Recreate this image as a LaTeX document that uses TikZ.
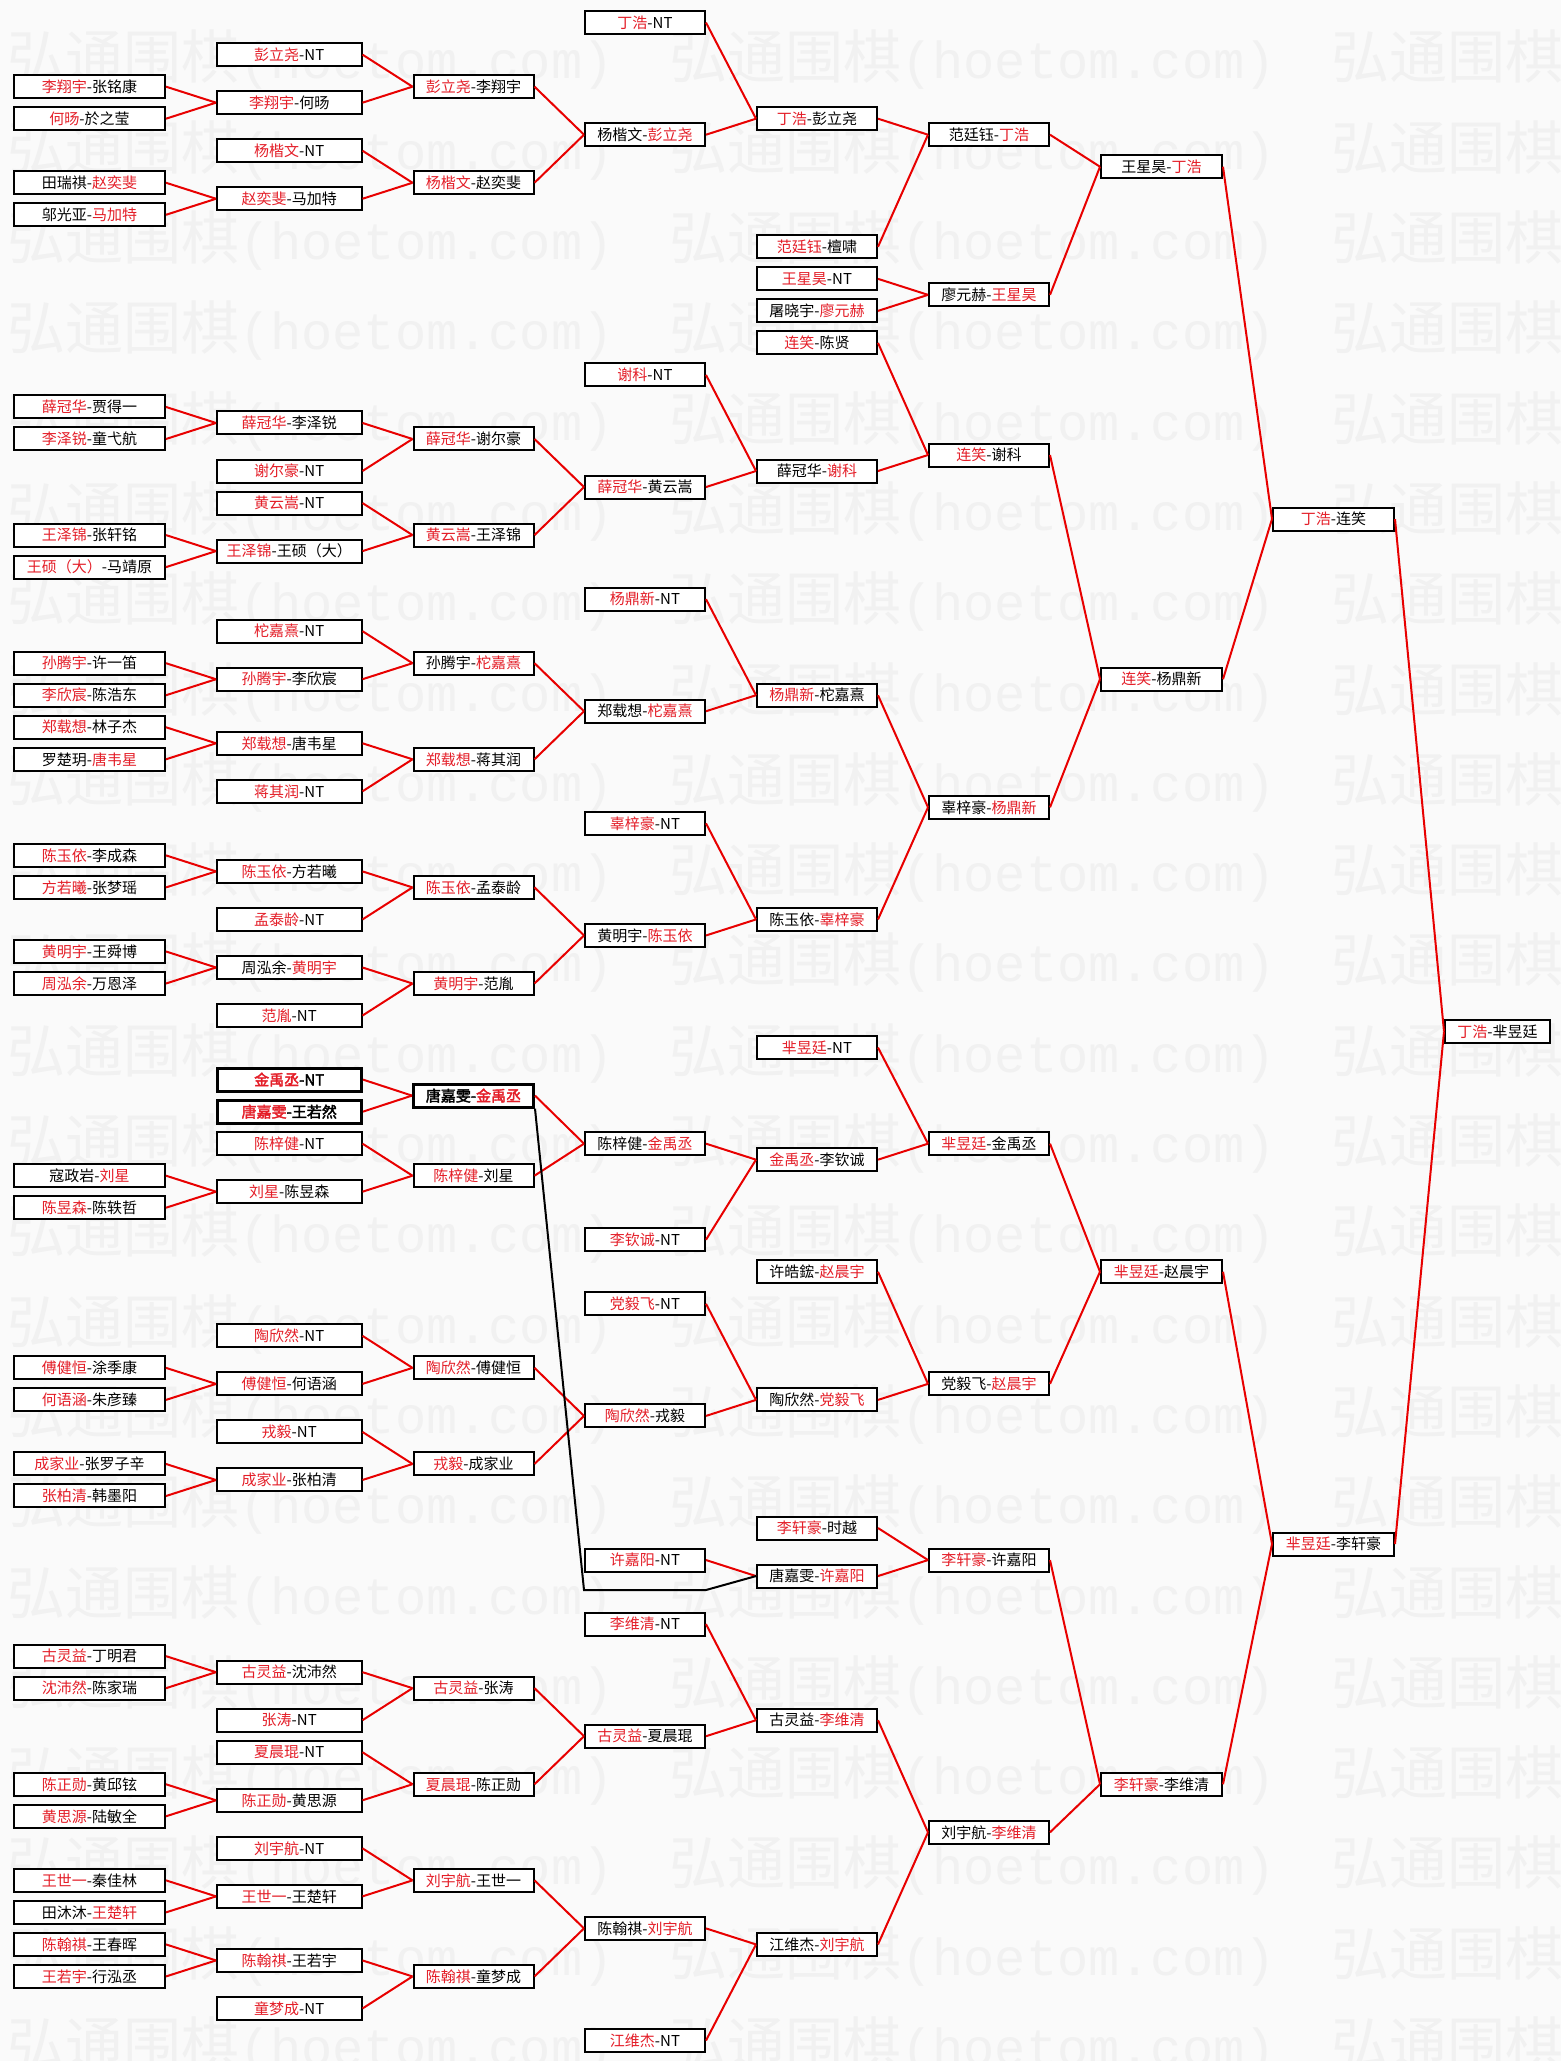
\documentclass[tikz,border=0pt]{standalone}
\usepackage{fontspec}
\newfontfamily\cjk{Noto Sans CJK SC}
\newfontfamily\cjkb[FakeBold=2.5]{Noto Sans CJK SC}
\newfontfamily\wmono{Liberation Mono}
\definecolor{tred}{RGB}{228,30,40}
\definecolor{lred}{RGB}{232,0,0}
\definecolor{wmc}{RGB}{241,241,241}
\definecolor{bgc}{RGB}{250,250,250}
\newcommand\rd[1]{\textcolor{tred}{#1}}
\def\cxA{89.5}\def\cxB{289.25}\def\cxC{473.5}\def\cxD{645}\def\cxE{817}
\def\cxF{989}\def\cxG{1161.5}\def\cxH{1333.5}\def\cxI{1497.5}
\tikzset{
  bx/.style={draw=black, line width=2pt, fill=white, minimum height=23pt, inner sep=0pt,
             font=\cjk\fontsize{15}{15}\selectfont},
  bb/.style={line width=3pt, font=\cjkb\fontsize{15}{15}\selectfont},
  colA/.style={minimum width=151pt},
  colB/.style={minimum width=144.5pt},
  colC/.style={minimum width=120pt},
  colD/.style={minimum width=120pt},
  colE/.style={minimum width=120pt},
  colF/.style={minimum width=120pt},
  colG/.style={minimum width=121pt},
  colH/.style={minimum width=121pt},
  colI/.style={minimum width=105pt},
  ln/.style={draw=lred, line width=2pt},
  bk/.style={draw=black, line width=2pt},
  wm/.style={text=wmc, inner sep=0pt, anchor=west}
}
\newcommand\nd[5][]{\node[bx,col#3,#1] (#2) at ({\csname cx#3\endcsname},{22.6+32.03*(#4)}) {#5};}
\newcommand\ed[2]{\draw[ln] (#1.east) -- (#2.west);}
\newcommand\pr[3]{\ed{#1}{#3}\ed{#2}{#3}}
\begin{document}
\begin{tikzpicture}[x=1pt,y=-1pt]
\useasboundingbox (0,0) rectangle (1561,2061);
\fill[bgc] (0,0) rectangle (1561,2061);
\begin{scope}
\clip (0,0) rectangle (1561,2061);
\foreach \k in {0,...,22}{
  \foreach \j in {0,1,2}{
    \node[wm] (wm-\k-\j) at (7+662*\j, 60+90.3*\k)
      {{\fontsize{58}{58}\selectfont\cjk 弘通围棋}{\fontsize{52}{52}\selectfont\wmono (hoetom.com)}};
  }
}
\end{scope}
% column A
\nd{a2}{A}{2}{\rd{李翔宇}-张铭康}
\nd{a3}{A}{3}{\rd{何旸}-於之莹}
\nd{a5}{A}{5}{田瑞祺-\rd{赵奕斐}}
\nd{a6}{A}{6}{邬光亚-\rd{马加特}}
\nd{a12}{A}{12}{\rd{薛冠华}-贾得一}
\nd{a13}{A}{13}{\rd{李泽锐}-童弋航}
\nd{a16}{A}{16}{\rd{王泽锦}-张轩铭}
\nd{a17}{A}{17}{\rd{王硕（大）}-马靖原}
\nd{a20}{A}{20}{\rd{孙腾宇}-许一笛}
\nd{a21}{A}{21}{\rd{李欣宸}-陈浩东}
\nd{a22}{A}{22}{\rd{郑载想}-林子杰}
\nd{a23}{A}{23}{罗楚玥-\rd{唐韦星}}
\nd{a26}{A}{26}{\rd{陈玉依}-李成森}
\nd{a27}{A}{27}{\rd{方若曦}-张梦瑶}
\nd{a29}{A}{29}{\rd{黄明宇}-王舜博}
\nd{a30}{A}{30}{\rd{周泓余}-万恩泽}
\nd{a36}{A}{36}{寇政岩-\rd{刘星}}
\nd{a37}{A}{37}{\rd{陈昱森}-陈轶哲}
\nd{a42}{A}{42}{\rd{傅健恒}-涂季康}
\nd{a43}{A}{43}{\rd{何语涵}-朱彦臻}
\nd{a45}{A}{45}{\rd{成家业}-张罗子辛}
\nd{a46}{A}{46}{\rd{张柏清}-韩墨阳}
\nd{a51}{A}{51}{\rd{古灵益}-丁明君}
\nd{a52}{A}{52}{\rd{沈沛然}-陈家瑞}
\nd{a55}{A}{55}{\rd{陈正勋}-黄邱铉}
\nd{a56}{A}{56}{\rd{黄思源}-陆敏全}
\nd{a58}{A}{58}{\rd{王世一}-秦佳林}
\nd{a59}{A}{59}{田沐沐-\rd{王楚轩}}
\nd{a60}{A}{60}{\rd{陈翰祺}-王春晖}
\nd{a61}{A}{61}{\rd{王若宇}-行泓丞}
% column B
\nd{b1}{B}{1}{\rd{彭立尧}-NT}
\nd{b2h}{B}{2.5}{\rd{李翔宇}-何旸}
\nd{b4}{B}{4}{\rd{杨楷文}-NT}
\nd{b5h}{B}{5.5}{\rd{赵奕斐}-马加特}
\nd{b12h}{B}{12.5}{\rd{薛冠华}-李泽锐}
\nd{b14}{B}{14}{\rd{谢尔豪}-NT}
\nd{b15}{B}{15}{\rd{黄云嵩}-NT}
\nd{b16h}{B}{16.5}{\rd{王泽锦}-王硕（大）}
\nd{b19}{B}{19}{\rd{柁嘉熹}-NT}
\nd{b20h}{B}{20.5}{\rd{孙腾宇}-李欣宸}
\nd{b22h}{B}{22.5}{\rd{郑载想}-唐韦星}
\nd{b24}{B}{24}{\rd{蒋其润}-NT}
\nd{b26h}{B}{26.5}{\rd{陈玉依}-方若曦}
\nd{b28}{B}{28}{\rd{孟泰龄}-NT}
\nd{b29h}{B}{29.5}{周泓余-\rd{黄明宇}}
\nd{b31}{B}{31}{\rd{范胤}-NT}
\nd[bb]{b33}{B}{33}{\rd{金禹丞}-NT}
\nd[bb]{b34}{B}{34}{\rd{唐嘉雯}-王若然}
\nd{b35}{B}{35}{\rd{陈梓健}-NT}
\nd{b36h}{B}{36.5}{\rd{刘星}-陈昱森}
\nd{b41}{B}{41}{\rd{陶欣然}-NT}
\nd{b42h}{B}{42.5}{\rd{傅健恒}-何语涵}
\nd{b44}{B}{44}{\rd{戎毅}-NT}
\nd{b45h}{B}{45.5}{\rd{成家业}-张柏清}
\nd{b51h}{B}{51.5}{\rd{古灵益}-沈沛然}
\nd{b53}{B}{53}{\rd{张涛}-NT}
\nd{b54}{B}{54}{\rd{夏晨琨}-NT}
\nd{b55h}{B}{55.5}{\rd{陈正勋}-黄思源}
\nd{b57}{B}{57}{\rd{刘宇航}-NT}
\nd{b58h}{B}{58.5}{\rd{王世一}-王楚轩}
\nd{b60h}{B}{60.5}{\rd{陈翰祺}-王若宇}
\nd{b62}{B}{62}{\rd{童梦成}-NT}
% column C
\nd{c2}{C}{2}{\rd{彭立尧}-李翔宇}
\nd{c5}{C}{5}{\rd{杨楷文}-赵奕斐}
\nd{c13}{C}{13}{\rd{薛冠华}-谢尔豪}
\nd{c16}{C}{16}{\rd{黄云嵩}-王泽锦}
\nd{c20}{C}{20}{孙腾宇-\rd{柁嘉熹}}
\nd{c23}{C}{23}{\rd{郑载想}-蒋其润}
\nd{c27}{C}{27}{\rd{陈玉依}-孟泰龄}
\nd{c30}{C}{30}{\rd{黄明宇}-范胤}
\nd[bb]{c33h}{C}{33.5}{唐嘉雯-\rd{金禹丞}}
\nd{c36}{C}{36}{\rd{陈梓健}-刘星}
\nd{c42}{C}{42}{\rd{陶欣然}-傅健恒}
\nd{c45}{C}{45}{\rd{戎毅}-成家业}
\nd{c52}{C}{52}{\rd{古灵益}-张涛}
\nd{c55}{C}{55}{\rd{夏晨琨}-陈正勋}
\nd{c58}{C}{58}{\rd{刘宇航}-王世一}
\nd{c61}{C}{61}{\rd{陈翰祺}-童梦成}
% column D
\nd{d0}{D}{0}{\rd{丁浩}-NT}
\nd{d3h}{D}{3.5}{杨楷文-\rd{彭立尧}}
\nd{d11}{D}{11}{\rd{谢科}-NT}
\nd{d14h}{D}{14.5}{\rd{薛冠华}-黄云嵩}
\nd{d18}{D}{18}{\rd{杨鼎新}-NT}
\nd{d21h}{D}{21.5}{郑载想-\rd{柁嘉熹}}
\nd{d25}{D}{25}{\rd{辜梓豪}-NT}
\nd{d28h}{D}{28.5}{黄明宇-\rd{陈玉依}}
\nd{d35}{D}{35}{陈梓健-\rd{金禹丞}}
\nd{d38}{D}{38}{\rd{李钦诚}-NT}
\nd{d40}{D}{40}{\rd{党毅飞}-NT}
\nd{d43h}{D}{43.5}{\rd{陶欣然}-戎毅}
\nd{d48}{D}{48}{\rd{许嘉阳}-NT}
\nd{d50}{D}{50}{\rd{李维清}-NT}
\nd{d53h}{D}{53.5}{\rd{古灵益}-夏晨琨}
\nd{d59h}{D}{59.5}{陈翰祺-\rd{刘宇航}}
\nd{d63}{D}{63}{\rd{江维杰}-NT}
% column E
\nd{e3}{E}{3}{\rd{丁浩}-彭立尧}
\nd{e7}{E}{7}{\rd{范廷钰}-檀啸}
\nd{e8}{E}{8}{\rd{王星昊}-NT}
\nd{e9}{E}{9}{屠晓宇-\rd{廖元赫}}
\nd{e10}{E}{10}{\rd{连笑}-陈贤}
\nd{e14}{E}{14}{薛冠华-\rd{谢科}}
\nd{e21}{E}{21}{\rd{杨鼎新}-柁嘉熹}
\nd{e28}{E}{28}{陈玉依-\rd{辜梓豪}}
\nd{e32}{E}{32}{\rd{芈昱廷}-NT}
\nd{e35h}{E}{35.5}{\rd{金禹丞}-李钦诚}
\nd{e39}{E}{39}{许皓鋐-\rd{赵晨宇}}
\nd{e43}{E}{43}{陶欣然-\rd{党毅飞}}
\nd{e47}{E}{47}{\rd{李轩豪}-时越}
\nd{e48h}{E}{48.5}{唐嘉雯-\rd{许嘉阳}}
\nd{e53}{E}{53}{古灵益-\rd{李维清}}
\nd{e60}{E}{60}{江维杰-\rd{刘宇航}}
% column F
\nd{f3h}{F}{3.5}{范廷钰-\rd{丁浩}}
\nd{f8h}{F}{8.5}{廖元赫-\rd{王星昊}}
\nd{f13h}{F}{13.5}{\rd{连笑}-谢科}
\nd{f24h}{F}{24.5}{辜梓豪-\rd{杨鼎新}}
\nd{f35}{F}{35}{\rd{芈昱廷}-金禹丞}
\nd{f42h}{F}{42.5}{党毅飞-\rd{赵晨宇}}
\nd{f48}{F}{48}{\rd{李轩豪}-许嘉阳}
\nd{f56h}{F}{56.5}{刘宇航-\rd{李维清}}
% column G
\nd{g4h}{G}{4.5}{王星昊-\rd{丁浩}}
\nd{g20h}{G}{20.5}{\rd{连笑}-杨鼎新}
\nd{g39}{G}{39}{\rd{芈昱廷}-赵晨宇}
\nd{g55}{G}{55}{\rd{李轩豪}-李维清}
% column H
\nd{h15h}{H}{15.5}{\rd{丁浩}-连笑}
\nd{h47h}{H}{47.5}{\rd{芈昱廷}-李轩豪}
% final
\nd{i31h}{I}{31.5}{\rd{丁浩}-芈昱廷}
% connectors
\pr{a2}{a3}{b2h}\pr{a5}{a6}{b5h}\pr{b1}{b2h}{c2}\pr{b4}{b5h}{c5}
\pr{c2}{c5}{d3h}\pr{d0}{d3h}{e3}\pr{e3}{e7}{f3h}\pr{e8}{e9}{f8h}\pr{f3h}{f8h}{g4h}
\pr{a12}{a13}{b12h}\pr{b12h}{b14}{c13}\pr{a16}{a17}{b16h}\pr{b15}{b16h}{c16}
\pr{c13}{c16}{d14h}\pr{d11}{d14h}{e14}\pr{e10}{e14}{f13h}
\pr{a20}{a21}{b20h}\pr{b19}{b20h}{c20}\pr{a22}{a23}{b22h}\pr{b22h}{b24}{c23}
\pr{c20}{c23}{d21h}\pr{d18}{d21h}{e21}
\pr{a26}{a27}{b26h}\pr{b26h}{b28}{c27}\pr{a29}{a30}{b29h}\pr{b29h}{b31}{c30}
\pr{c27}{c30}{d28h}\pr{d25}{d28h}{e28}\pr{e21}{e28}{f24h}\pr{f13h}{f24h}{g20h}
\pr{g4h}{g20h}{h15h}
\pr{b33}{b34}{c33h}\pr{a36}{a37}{b36h}\pr{b35}{b36h}{c36}\pr{c33h}{c36}{d35}
\pr{d35}{d38}{e35h}\pr{e32}{e35h}{f35}
\pr{a42}{a43}{b42h}\pr{b41}{b42h}{c42}\pr{a45}{a46}{b45h}\pr{b44}{b45h}{c45}
\pr{c42}{c45}{d43h}\pr{d40}{d43h}{e43}\pr{e39}{e43}{f42h}\pr{f35}{f42h}{g39}
\ed{d48}{e48h}\pr{e47}{e48h}{f48}
\pr{a51}{a52}{b51h}\pr{b51h}{b53}{c52}\pr{a55}{a56}{b55h}\pr{b54}{b55h}{c55}
\pr{c52}{c55}{d53h}\pr{d50}{d53h}{e53}
\pr{a58}{a59}{b58h}\pr{b57}{b58h}{c58}\pr{a60}{a61}{b60h}\pr{b60h}{b62}{c61}
\pr{c58}{c61}{d59h}\pr{d59h}{d63}{e60}\pr{e53}{e60}{f56h}\pr{f48}{f56h}{g55}
\pr{g39}{g55}{h47h}\pr{h15h}{h47h}{i31h}
% black connector
\coordinate (kb1) at (584,1590);
\coordinate (kb2) at (706,1590);
\draw[bk] (c33h.south east) -- (kb1) -- (kb2) -- (e48h.west);
\end{tikzpicture}
\end{document}
